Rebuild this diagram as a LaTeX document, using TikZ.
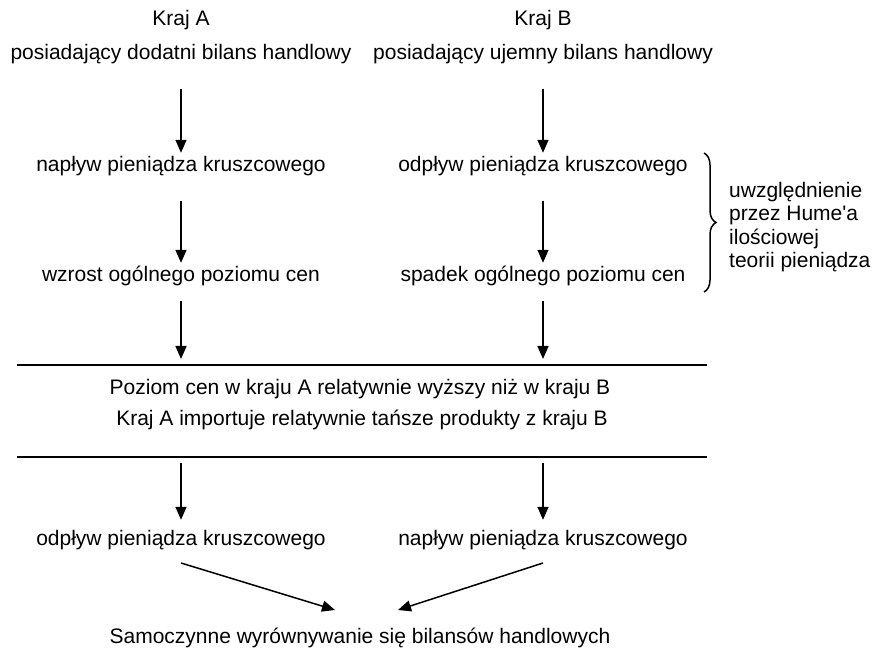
\documentclass[tikz,border=0pt]{standalone}
\usepackage{fontspec}
\newfontfamily\arial{Liberation Sans}
\usetikzlibrary{arrows.meta,decorations.pathreplacing}
\tikzset{
	txt/.style={inner sep=0, text height=15pt, text depth=5pt, font={\arial\fontsize{21}{23.3}\selectfont}},
	note/.style={inner sep=0, align=left, font={\arial\fontsize{21}{23.3}\selectfont}},
	flow/.style={line width=1.5pt, -{Triangle[length=13pt,width=11pt]}, shorten <=24pt, shorten >=4pt},
	bar/.style={line width=2pt}
}

\begin{document}
\begin{tikzpicture}[x=1pt,y=-1pt]
				%%%%% START %%%%%
				\useasboundingbox (0,0) rectangle (876,652);
				
				\node[txt] (krajA) at (181,21) {Kraj A};
				\node[txt] (dodA) at (181,55) {posiadający dodatni bilans handlowy};
				\node[txt] (napA) at (181,167) {napływ pieniądza kruszcowego};
				\node[txt] (wzrA) at (181,277) {wzrost ogólnego poziomu cen};
				
				\node[txt] (krajB) at (543,21) {Kraj B};
				\node[txt] (ujmB) at (543,55) {posiadający ujemny bilans handlowy};
				\node[txt] (odpB) at (543,167) {odpływ pieniądza kruszcowego};
				\node[txt] (spaB) at (543,277) {spadek ogólnego poziomu cen};
				
				\draw[flow] (dodA) -- (napA);
				\draw[flow] (napA) -- (wzrA);
				\draw[flow] (ujmB) -- (odpB);
				\draw[flow] (odpB) -- (spaB);
				
				\coordinate (l1a) at (17,365);
				\coordinate (l1b) at (707,365);
				\draw[bar] (l1a) -- (l1b);
				\draw[flow, shorten <=14pt, shorten >=6pt] (wzrA) -- (wzrA |- l1a);
				\draw[flow, shorten <=14pt, shorten >=6pt] (spaB) -- (spaB |- l1a);
				
				\coordinate (brT) at (704,153);
				\coordinate (brB) at (704,292);
				\draw[line width=1.5pt, decorate, decoration={brace, amplitude=12pt}] (brT) -- (brB);
				\node[note, anchor=west] (hume) at (729,227) {uwzględnienie\\przez Hume'a\\ilościowej\\teorii pieniądza};
				
				\node[txt] (poziom) at (360,390) {Poziom cen w kraju A relatywnie wyższy niż w kraju B};
				\node[txt] (import) at (362,420) {Kraj A importuje relatywnie tańsze produkty z kraju B};
				
				\coordinate (l2a) at (17,457);
				\coordinate (l2b) at (707,457);
				\draw[bar] (l2a) -- (l2b);
				
				\node[txt] (odpA) at (181,540) {odpływ pieniądza kruszcowego};
				\node[txt] (napB) at (543,540) {napływ pieniądza kruszcowego};
				\draw[flow, shorten <=6pt, shorten >=10pt] (odpA |- l2a) -- (odpA);
				\draw[flow, shorten <=6pt, shorten >=10pt] (napB |- l2a) -- (napB);
				
				\node[txt] (sam) at (360,638) {Samoczynne wyrównywanie się bilansów handlowych};
				\draw[flow, shorten <=0pt, shorten >=0pt] ([yshift=-23pt]odpA.center) -- ([xshift=-25pt,yshift=28pt]sam.center);
				\draw[flow, shorten <=0pt, shorten >=0pt] ([yshift=-23pt]napB.center) -- ([xshift=38pt,yshift=28pt]sam.center);
				%%%%% END %%%%%
\end{tikzpicture}
\end{document}
